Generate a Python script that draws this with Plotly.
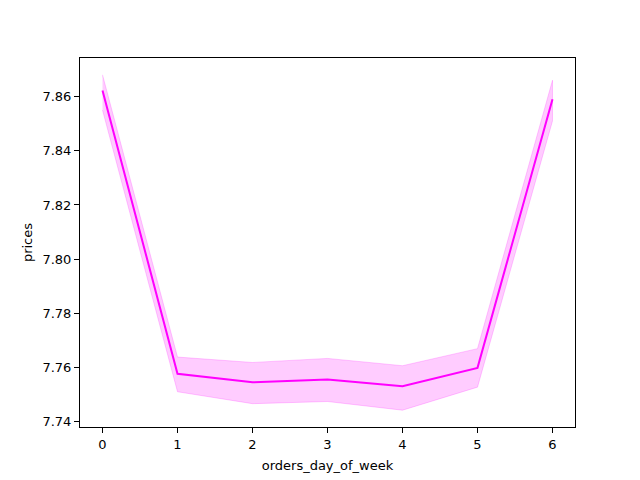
import plotly.graph_objects as go

# data
days = [0, 1, 2, 3, 4, 5, 6]
mean_price = [7.8622, 7.7577, 7.7546, 7.7556, 7.7531, 7.7599, 7.8590]
ci_upper = [7.8680, 7.7639, 7.7619, 7.7634, 7.7607, 7.7670, 7.8660]
ci_lower = [7.8550, 7.7511, 7.7467, 7.7475, 7.7443, 7.7528, 7.8510]

fig = go.Figure()

# confidence band
fig.add_trace(
    go.Scatter(
        x=days + days[::-1],
        y=ci_upper + ci_lower[::-1],
        fill="toself",
        fillcolor="rgba(255,0,255,0.2)",
        line=dict(color="rgba(255,0,255,0.2)", width=1),
        mode="lines",
        hoverinfo="skip",
        showlegend=False,
    )
)

fig.add_trace(
    go.Scatter(
        x=days,
        y=mean_price,
        mode="lines",
        line=dict(color="#ff00ff", width=2),
        showlegend=False,
    )
)

axis_style = dict(
    showgrid=False,
    zeroline=False,
    showline=True,
    linecolor="black",
    linewidth=1,
    mirror=True,
    ticks="outside",
    ticklen=5,
    tickcolor="black",
    tickfont=dict(size=13, color="black"),
    title_font=dict(size=13, color="black"),
)

# page body has an 8px margin, so the margins are shifted to compensate
fig.update_layout(
    width=640,
    height=480,
    margin=dict(l=72, r=73, t=50, b=61),
    plot_bgcolor="white",
    paper_bgcolor="white",
    font=dict(family="DejaVu Sans", size=13, color="black"),
    xaxis=dict(
        title=dict(text="orders_day_of_week", standoff=10),
        range=[-0.3, 6.3],
        tickvals=days,
        **axis_style,
    ),
    yaxis=dict(
        title=dict(text="prices", standoff=6),
        range=[7.7381, 7.8742],
        tickvals=[7.74, 7.76, 7.78, 7.80, 7.82, 7.84, 7.86],
        tickformat=".2f",
        **axis_style,
    ),
)

fig.write_html("out.html")
